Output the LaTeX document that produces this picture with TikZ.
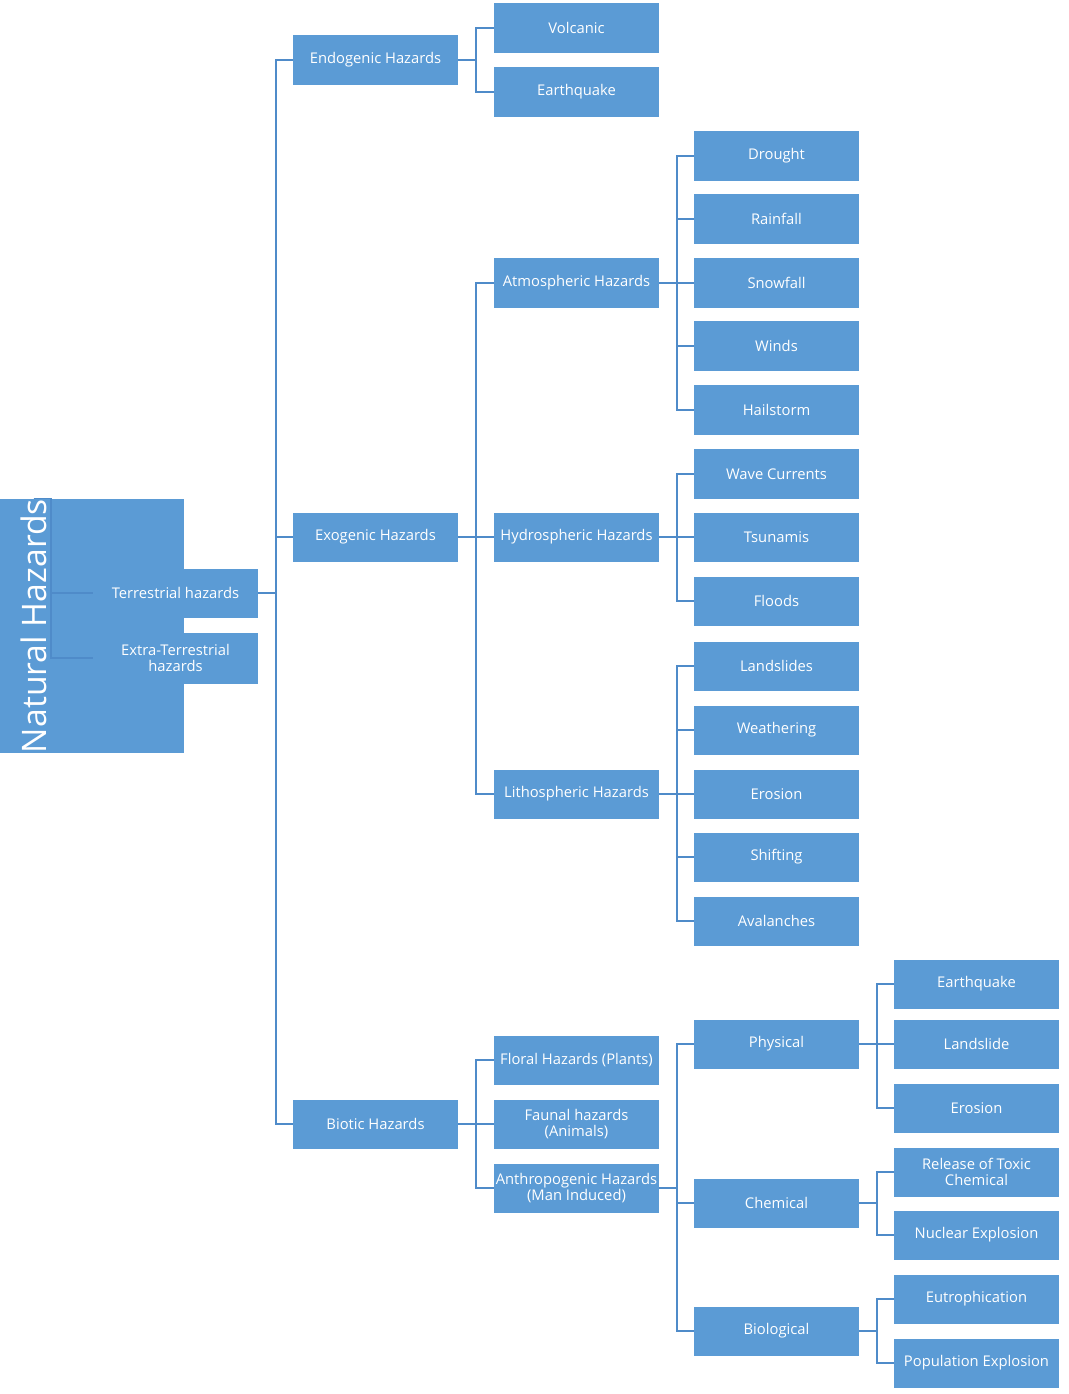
\documentclass[tikz,border=0pt]{standalone}
\usepackage{fontspec}
\setmainfont{Open Sans}
\definecolor{boxblue}{HTML}{5B9BD5}
\definecolor{lineblue}{HTML}{4F8BC9}
\tikzset{
  hz/.style={fill=boxblue, text=white, minimum width=4.125cm, minimum height=1.225cm,
    align=center, inner sep=1pt, font=\fontsize{10.5}{11.5}\selectfont},
  link/.style={draw=lineblue, line width=1.1pt}
}
\begin{document}
\begin{tikzpicture}[x=0.025cm, y=-0.025cm]
    \useasboundingbox (0,0) rectangle (1068,1394);
    % Root
    \node[fill=boxblue, text=white, minimum width=1.225cm, minimum height=7.5cm,
      inner sep=0pt, font=\fontsize{24}{26}\selectfont, rotate=90] (root) at (33.5,626) {Natural Hazards};
    % Level 1
    \node[hz] (terr) at (175.5,593) {Terrestrial hazards};
    \node[hz, minimum height=1.275cm] (extra) at (175.5,658) {Extra-Terrestrial\\hazards};
    % Level 2
    \node[hz] (endo) at (375.5,60) {Endogenic Hazards};
    \node[hz] (exo) at (375.5,537) {Exogenic Hazards};
    \node[hz] (bio) at (375.5,1124) {Biotic Hazards};
    % Level 3
    \node[hz] (volc) at (576.5,28) {Volcanic};
    \node[hz] (quake) at (576.5,92) {Earthquake};
    \node[hz] (atmo) at (576.5,283) {Atmospheric Hazards};
    \node[hz] (hydro) at (576.5,537) {Hydrospheric Hazards};
    \node[hz] (litho) at (576.5,794) {Lithospheric Hazards};
    \node[hz] (flora) at (576.5,1060) {Floral Hazards (Plants)};
    \node[hz] (fauna) at (576.5,1124) {Faunal hazards\\(Animals)};
    \node[hz] (anthro) at (576.5,1188) {Anthropogenic Hazards\\(Man Induced)};
    % Level 4
    \node[hz] (drought) at (776.5,156) {Drought};
    \node[hz] (rain) at (776.5,219) {Rainfall};
    \node[hz] (snow) at (776.5,283) {Snowfall};
    \node[hz] (winds) at (776.5,346) {Winds};
    \node[hz] (hail) at (776.5,410) {Hailstorm};
    \node[hz] (wave) at (776.5,474) {Wave Currents};
    \node[hz] (tsun) at (776.5,537) {Tsunamis};
    \node[hz] (flood) at (776.5,601) {Floods};
    \node[hz] (lslides) at (776.5,666) {Landslides};
    \node[hz] (weath) at (776.5,730) {Weathering};
    \node[hz] (eros) at (776.5,794) {Erosion};
    \node[hz] (shift) at (776.5,857) {Shifting};
    \node[hz] (aval) at (776.5,921) {Avalanches};
    \node[hz] (phys) at (776.5,1044) {Physical};
    \node[hz] (chem) at (776.5,1203) {Chemical};
    \node[hz] (biol) at (776.5,1331) {Biological};
    % Level 5
    \node[hz] (quake2) at (976.5,984) {Earthquake};
    \node[hz] (lslide2) at (976.5,1044) {Landslide};
    \node[hz] (eros2) at (976.5,1108) {Erosion};
    \node[hz] (toxic) at (976.5,1172) {Release of Toxic\\Chemical};
    \node[hz] (nuke) at (976.5,1235) {Nuclear Explosion};
    \node[hz] (eutro) at (976.5,1299) {Eutrophication};
    \node[hz] (popu) at (976.5,1363) {Population Explosion};
    % Connectors
    \foreach \p/\kids in {root/{terr,extra}, terr/{endo,exo,bio}, endo/{volc,quake},
        exo/{atmo,hydro,litho}, bio/{flora,fauna,anthro},
        atmo/{drought,rain,snow,winds,hail}, hydro/{wave,tsun,flood},
        litho/{lslides,weath,eros,shift,aval}, anthro/{phys,chem,biol},
        phys/{quake2,lslide2,eros2}, chem/{toxic,nuke}, biol/{eutro,popu}} {
        \foreach \c in \kids {
            \draw[link] (\p.east) -- ++(17.5,0) |- (\c.west);
        }
    }
\end{tikzpicture}
\end{document}
